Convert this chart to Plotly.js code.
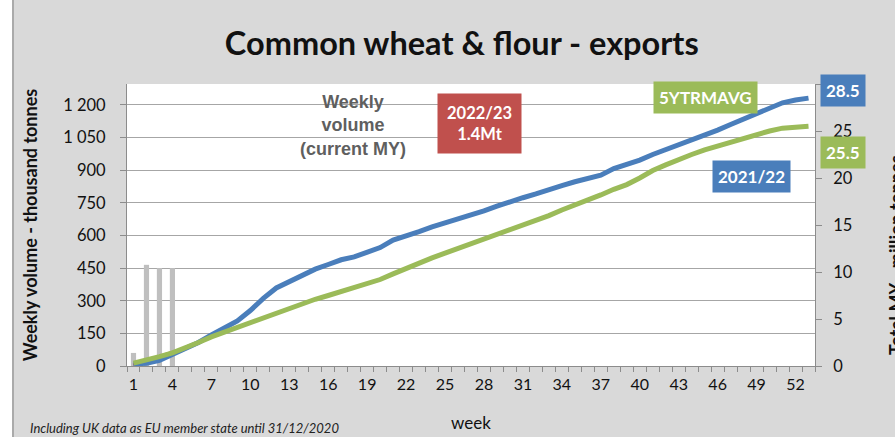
<!DOCTYPE html>
<html>
<head>
<meta charset="utf-8">
<script src="https://cdn.plot.ly/plotly-3.0.1.min.js"></script>
<style>html,body{margin:0;padding:0;background:#d9d9d9;}#chart{width:895px;height:437px;}</style>
</head>
<body>
<div id="chart"></div>
<script>
// Weeks of the marketing year
const weeks = [];
for (let w = 1; w <= 53; w++) weeks.push(w);

// Weekly volume, current MY 2022/23 (thousand tonnes)
const weeksCurrent = [1, 2, 3, 4];
const weeklyCurrent = [60, 465, 450, 450];

// Cumulative current MY (million tonnes)
const cumCurrent = [0.06, 0.52, 0.97, 1.42];

// Cumulative 2021/22 (million tonnes)
const cum2122 = [0.2, 0.3, 0.6, 1.2, 1.8, 2.5, 3.3, 4.0, 4.8, 5.9,
  7.2, 8.3, 9.0, 9.7, 10.3, 10.8, 11.3, 11.6, 12.1, 12.6,
  13.4, 13.8, 14.3, 14.8, 15.2, 15.6, 16.1, 16.5, 17.0, 17.5,
  17.9, 18.3, 18.8, 19.2, 19.6, 20.0, 20.3, 21.0, 21.4, 21.9,
  22.5, 23.0, 23.5, 24.1, 24.6, 25.1, 25.7, 26.3, 26.9, 27.5,
  28.0, 28.3, 28.5];

// Cumulative 5-year average (million tonnes)
const cum5yr = [0.3, 0.6, 1.0, 1.4, 1.9, 2.5, 3.1, 3.6, 4.1, 4.7,
  5.2, 5.7, 6.2, 6.6, 7.1, 7.5, 7.9, 8.3, 8.7, 9.2,
  9.8, 10.4, 11.0, 11.5, 12.0, 12.5, 13.0, 13.5, 14.0, 14.5,
  14.9, 15.4, 16.0, 16.6, 17.1, 17.7, 18.2, 18.8, 19.3, 20.0,
  20.8, 21.4, 22.0, 22.5, 23.0, 23.4, 23.8, 24.3, 24.7, 25.0,
  25.3, 25.4, 25.5];

// Tick labels
const xTickVals = [1, 4, 7, 10, 13, 16, 19, 22, 25, 28, 31, 34, 37, 40, 43, 46, 49, 52];
const xTickText = xTickVals.map(String);
const yLeftVals = [0, 150, 300, 450, 600, 750, 900, 1050, 1200];
const yLeftText = ["0", "150", "300", "450", "600", "750", "900", "1 050", "1 200"];

const minorX = [];
for (let i = 0; i <= 53; i++) minorX.push(i + 0.5);

const FONT = "Lato, 'Open Sans', sans-serif";

const traces = [
  { type: 'bar', x: weeksCurrent, y: weeklyCurrent, yaxis: 'y', width: 0.4,
    marker: { color: '#bfbfbf' }, hoverinfo: 'skip' },
  { type: 'scatter', mode: 'lines', x: weeksCurrent, y: cumCurrent, yaxis: 'y2',
    line: { color: '#c0504d', width: 4 }, hoverinfo: 'skip' },
  { type: 'scatter', mode: 'lines', x: weeks, y: cum2122, yaxis: 'y2',
    line: { color: '#4a7ebb', width: 5 }, hoverinfo: 'skip' },
  { type: 'scatter', mode: 'lines', x: weeks, y: cum5yr, yaxis: 'y2',
    line: { color: '#9bbb59', width: 5 }, hoverinfo: 'skip' }
];

const px2x = px => (px - 127) / 688;
const py2y = py => (366 - py) / 282;

function box(px, py, text, bg, size, pad) {
  return { xref: 'paper', yref: 'paper', x: px2x(px), y: py2y(py), xanchor: 'center', yanchor: 'middle',
    showarrow: false, text: text, align: 'center', bgcolor: bg, borderpad: pad,
    font: { family: FONT, size: size, color: '#ffffff' } };
}

const layout = {
  width: 895, height: 437,
  margin: { l: 127, r: 80, t: 84, b: 71, pad: 0 },
  paper_bgcolor: '#d9d9d9',
  plot_bgcolor: '#ffffff',
  showlegend: false,
  hovermode: false,
  font: { family: FONT, color: '#1a1a1a' },
  title: { text: '<b>Common wheat & flour - exports</b>', font: { family: FONT, size: 32.5, color: '#111' },
           x: 0.516, xanchor: 'center', y: 0.9, yanchor: 'middle' },
  xaxis: {
    range: [0.5, 53.5], tickmode: 'array', tickvals: xTickVals, ticktext: xTickText,
    ticks: '', showgrid: false, zeroline: false,
    showline: true, linecolor: '#8c8c8c', linewidth: 1,
    tickfont: { size: 16, color: '#111', family: FONT },
    ticklabelstandoff: 4,
    minor: { tickmode: 'array', tickvals: minorX, ticks: 'outside', ticklen: 5, tickcolor: '#8c8c8c', showgrid: false },
    title: { text: 'week', font: { size: 17, color: '#111', family: FONT }, standoff: 24 }
  },
  yaxis: {
    range: [0, 1296], tickmode: 'array', tickvals: yLeftVals, ticktext: yLeftText,
    ticks: 'outside', ticklen: 6, tickcolor: '#8c8c8c',
    showgrid: true, gridcolor: '#a6a6a6', gridwidth: 1, zeroline: false,
    showline: true, linecolor: '#8c8c8c', linewidth: 1,
    tickfont: { size: 16.5, color: '#111', family: FONT },
    ticklabelstandoff: 11,
    title: { text: '<b>Weekly volume - thousand tonnes</b>', font: { size: 18, color: '#111', family: FONT }, standoff: 20 }
  },
  yaxis2: {
    overlaying: 'y', side: 'right', range: [0, 30], tickvals: [0, 5, 10, 15, 20, 25, 30],
    ticks: 'outside', ticklen: 6, tickcolor: '#8c8c8c',
    showgrid: false, zeroline: false, showline: true, linecolor: '#8c8c8c', linewidth: 1,
    tickfont: { size: 16.5, color: '#111', family: FONT },
    ticklabelstandoff: 8
  },
  shapes: [
    { type: 'rect', xref: 'paper', yref: 'paper', x0: px2x(-2), x1: px2x(12), y0: py2y(-2), y1: py2y(440),
      fillcolor: '#ffffff', line: { width: 0 }, layer: 'above' },
    { type: 'line', xref: 'paper', yref: 'paper', x0: px2x(13), x1: px2x(13), y0: py2y(-2), y1: py2y(440),
      line: { color: '#9a9a9a', width: 1.5 }, layer: 'above' }
  ],
  annotations: [
    { xref: 'paper', yref: 'paper', x: px2x(353), y: py2y(125), xanchor: 'center', yanchor: 'middle', showarrow: false,
      text: '<b>Weekly<br>volume<br>(current MY)</b>', align: 'center',
      font: { family: "'Liberation Sans', Arial, sans-serif", size: 18, color: '#5f5f5f' } },
    box(479, 123, '<b>2022/23<br>1.4Mt</b>', '#c0504d', 16.5, 9),
    box(705, 98, '<b>5YTRMAVG</b>', '#9bbb59', 17, 5),
    box(751, 176, '<b>2021/22</b>', '#4a7ebb', 17, 5),
    box(843, 90, '<b>28.5</b>', '#4a7ebb', 17, 5),
    box(843, 152, '<b>25.5</b>', '#9bbb59', 17, 5),
    { xref: 'paper', yref: 'paper', x: px2x(896), y: py2y(255), xanchor: 'center', yanchor: 'middle', showarrow: false, textangle: -90,
      text: '<b>Total MY - million tonnes</b>',
      font: { family: FONT, size: 18, color: '#111' } },
    { xref: 'paper', yref: 'paper', x: px2x(28), y: py2y(428), xanchor: 'left', yanchor: 'middle', showarrow: false,
      text: '<i>Including UK data as EU member state until 31/12/2020</i>',
      font: { family: FONT, size: 13, color: '#222' } }
  ]
};

Plotly.newPlot('chart', traces, layout, { displayModeBar: false, staticPlot: true });
</script>
</body>
</html>
